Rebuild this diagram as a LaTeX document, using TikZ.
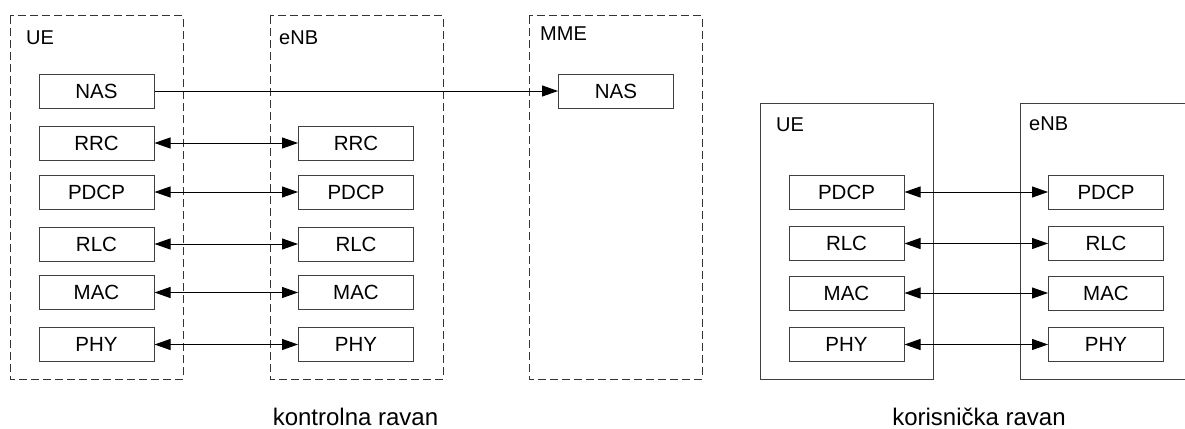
\documentclass[tikz,border=0pt]{standalone}
\usepackage{fontspec}
\setmainfont{Liberation Sans}
\usetikzlibrary{arrows.meta}
\tikzset{
  layer/.style={draw=black!75, line width=1pt, minimum width=115pt, minimum height=34pt,
    inner sep=0pt, font=\fontsize{20.5}{21}\selectfont},
  dashbox/.style={draw=black!80, line width=1pt, dash pattern=on 8pt off 4pt},
  solidbox/.style={draw=black!75, line width=1pt},
  lbl/.style={anchor=base west, inner sep=0pt, font=\fontsize{20}{21}\selectfont},
  caption/.style={anchor=base, inner sep=0pt, font=\fontsize{24}{25}\selectfont},
  link/.style={line width=1pt, {Triangle[length=16pt,width=11pt]}-{Triangle[length=16pt,width=11pt]}},
  onelink/.style={line width=1pt, -{Triangle[length=16pt,width=11pt]}}
}
\begin{document}
\begin{tikzpicture}[x=1pt,y=-1pt]
\useasboundingbox (0,0) rectangle (1185,428);
% control plane containers
\draw[dashbox] (10,16) rectangle (183,379);
\draw[dashbox] (270,16) rectangle (443,379);
\draw[dashbox] (529,16) rectangle (702,379);
\node[lbl] (cue) at (26,45) {UE};
\node[lbl] (cenb) at (279,45) {eNB};
\node[lbl] (cmme) at (540,41) {MME};
% UE layers
\node[layer] (uNAS) at (96.5,91) {NAS};
\node[layer] (uRRC) at (96.5,143) {RRC};
\node[layer] (uPDCP) at (96.5,192) {PDCP};
\node[layer] (uRLC) at (96.5,244) {RLC};
\node[layer] (uMAC) at (96.5,292.5) {MAC};
\node[layer] (uPHY) at (96.5,344.5) {PHY};
% eNB layers
\node[layer] (eRRC) at (356,143) {RRC};
\node[layer] (ePDCP) at (356,192) {PDCP};
\node[layer] (eRLC) at (356,244) {RLC};
\node[layer] (eMAC) at (356,292.5) {MAC};
\node[layer] (ePHY) at (356,344.5) {PHY};
% MME
\node[layer] (mNAS) at (616,91) {NAS};
\draw[onelink] (uNAS) -- (mNAS);
\foreach \n in {RRC,PDCP,RLC,MAC,PHY}{
  \draw[link] (u\n) -- (e\n);
}
\node[caption] (kcap) at (355.5,425) {kontrolna ravan};
% user plane
\draw[solidbox] (760,103) rectangle (933,379);
\draw[solidbox] (1020,103) rectangle (1193,379);
\node[lbl] (rue) at (776,131) {UE};
\node[lbl] (renb) at (1029,130) {eNB};
\node[layer] (ruPDCP) at (846.5,192) {PDCP};
\node[layer] (ruRLC) at (846.5,243.5) {RLC};
\node[layer] (ruMAC) at (846.5,293) {MAC};
\node[layer] (ruPHY) at (846.5,344.5) {PHY};
\node[layer] (rePDCP) at (1106,192) {PDCP};
\node[layer] (reRLC) at (1106,243.5) {RLC};
\node[layer] (reMAC) at (1106,293) {MAC};
\node[layer] (rePHY) at (1106,344.5) {PHY};
\foreach \n in {PDCP,RLC,MAC,PHY}{
  \draw[link] (ru\n) -- (re\n);
}
\node[caption] (ucap) at (979,425) {korisnička ravan};
\end{tikzpicture}
\end{document}
